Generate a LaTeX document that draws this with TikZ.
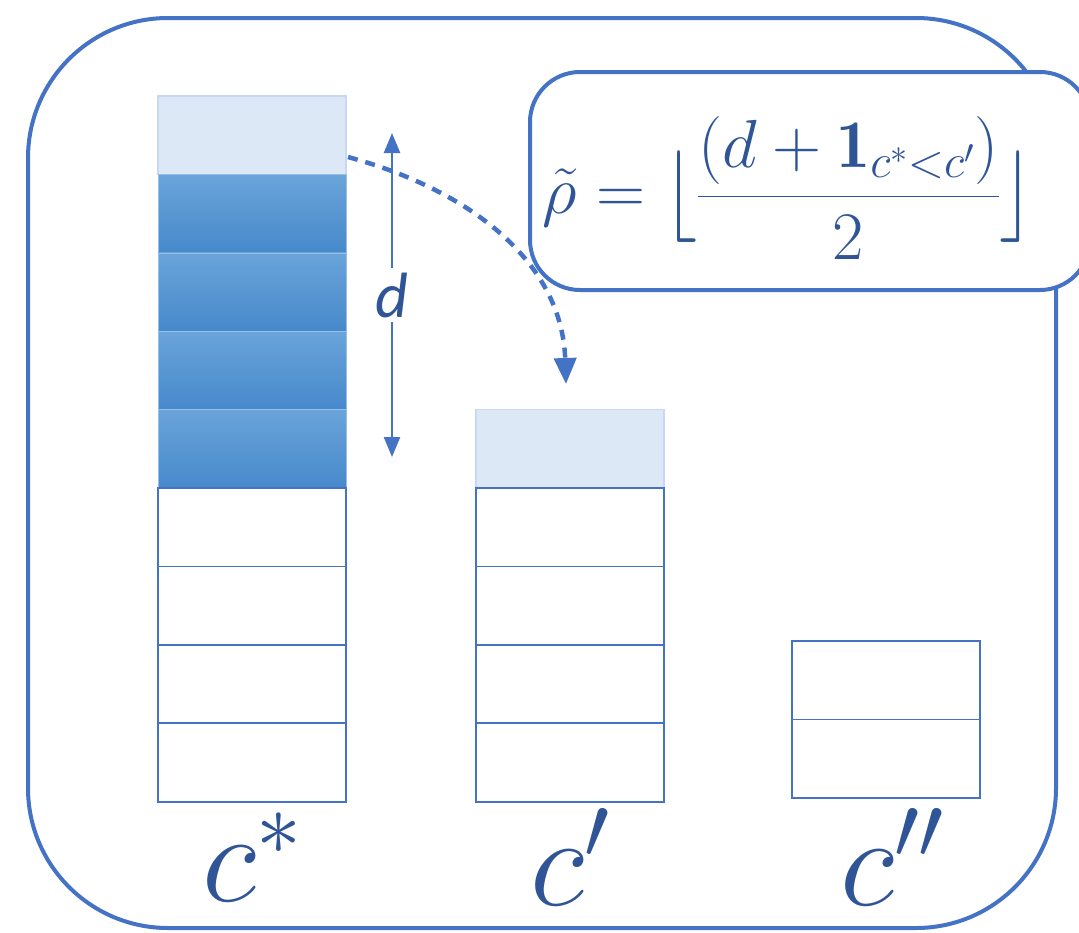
\RequirePackage{fix-cm}
\documentclass[tikz,border=0pt]{standalone}
\usepackage{fontspec}
\newfontfamily\calibri{Carlito}
\usetikzlibrary{arrows.meta}
\definecolor{frame}{HTML}{4472C4}
\definecolor{ink}{HTML}{2F5597}
\definecolor{lightfill}{HTML}{DCE8F5}
\definecolor{lightedge}{HTML}{C8D8F0}
\definecolor{darktop}{HTML}{6AA4DA}
\definecolor{darkmid}{HTML}{559BDC}
\definecolor{darkbot}{HTML}{4689CB}
\newcommand{\tallfloorL}{\mathopen{\vcenter{\hbox{\scalebox{1.1}[1.35]{$\lfloor$}}}}}
\newcommand{\tallfloorR}{\mathclose{\vcenter{\hbox{\scalebox{1.1}[1.35]{$\rfloor$}}}}}
\begin{document}
\begin{tikzpicture}[x=1pt,y=-1pt,
  cellbase/.style={minimum width=188pt,minimum height=78.4pt,anchor=north west,inner sep=0pt,outer sep=0pt},
  whitecell/.style={cellbase,draw=frame,line width=1.8pt,fill=white},
  lightcell/.style={cellbase,draw=lightedge,line width=1.5pt,fill=lightfill},
  darkcell/.style={cellbase,top color=darktop,middle color=darkmid,bottom color=darkbot,draw=darktop!70!white,line width=0.6pt},
  lab/.style={text=ink,font=\fontsize{128}{140}\selectfont,inner sep=0pt},
  darrow/.style={draw=frame,line width=2.4pt,{Triangle[length=20pt,width=16pt]}-{Triangle[length=20pt,width=16pt]}},
  movearrow/.style={draw=frame,line width=4.5pt,dash pattern=on 10pt off 8pt,-{Triangle[length=26pt,width=22pt]}}
]
\useasboundingbox (0,0) rectangle (1079,932);
% outer frame
\node[draw=frame,line width=4pt,rounded corners=140pt,minimum width=1028pt,minimum height=910pt,inner sep=0pt] (outer) at (542,473) {};
% column c*
\node[lightcell] (a0) at (158,96) {};
\foreach \k in {1,...,4}{\node[darkcell] (a\k) at (158,{96+78.4*\k}) {};}
\foreach \k in {5,...,8}{\node[whitecell] (a\k) at (158,{96+78.4*\k}) {};}
% column c'
\node[lightcell] (b0) at (476,409.6) {};
\foreach \k in {1,...,4}{\node[whitecell] (b\k) at (476,{409.6+78.4*\k}) {};}
% column c''
\node[whitecell] (e1) at (792,641) {};
\node[whitecell] (e2) at (792,719.4) {};
% d arrow
\coordinate (dtop) at (392,133);
\coordinate (dbot) at (392,457);
\draw[darrow] (dtop) -- (dbot) node[midway,fill=white,inner sep=5pt,text=ink,font=\calibri\itshape\fontsize{64}{66}\selectfont] (dlab) {d};
% dashed move arrow
\coordinate (mvs) at (348,157);
\coordinate (mve) at (566,384);
\draw[movearrow] (mvs) .. controls (470,190) and (562,262) .. (mve);
% formula box
\node[draw=frame,line width=4pt,rounded corners=50pt,fill=white,minimum width=560pt,minimum height=218pt,inner sep=0pt] (fbox) at (810,181) {};
\node[text=ink,inner sep=0pt,font=\fontsize{68}{74}\selectfont] (formula) at (788,188) {$\displaystyle \tilde{\rho} = \tallfloorL \frac{(d+\mathbf{1}_{c^{*}<c'})}{2} \tallfloorR$};
% labels
\node[lab] (lc1) at (252,857) {$c^{*}$};
\node[lab] (lc2) at (570,857) {$c'$};
\node[lab] (lc3) at (892,857) {$c''$};
\end{tikzpicture}
\end{document}
